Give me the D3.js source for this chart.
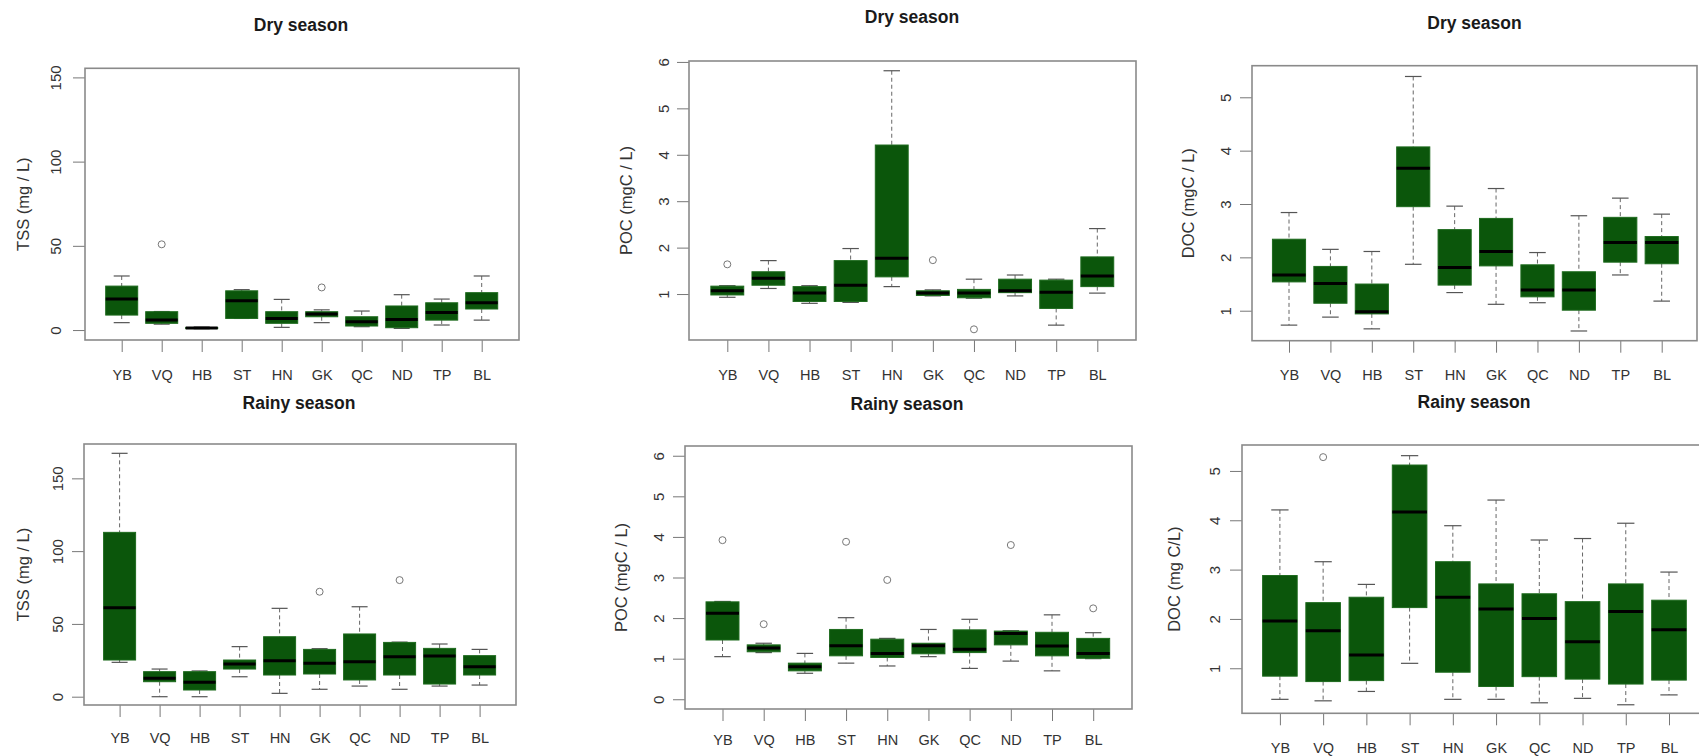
<!DOCTYPE html>
<html>
<head>
<meta charset="utf-8">
<script src="https://cdn.jsdelivr.net/npm/d3@7"></script>
<style>
  html, body { margin: 0; padding: 0; background: #fff; }
  svg { display: block; font-family: "Liberation Sans", Arial, sans-serif; }
</style>
</head>
<body>
<svg id="chart" width="1699" height="756"></svg>
<script>
// ---------------- DATA ----------------
const categories = ["YB", "VQ", "HB", "ST", "HN", "GK", "QC", "ND", "TP", "BL"];

// each row: [whisker low, Q1, median, Q3, whisker high]
const tssDry = [
  [4.4, 8.9, 18.4, 26.1, 32.1],
  [3.5, 4.0, 6.0, 10.9, 11.0],
  [0.8, 1.0, 1.2, 1.5, 1.8],
  [6.9, 6.9, 17.4, 23.3, 24.0],
  [1.6, 4.0, 6.9, 10.9, 18.2],
  [4.4, 7.9, 9.5, 10.9, 12.0],
  [2.0, 2.4, 4.9, 7.9, 11.3],
  [1.0, 1.4, 6.3, 14.3, 21.0],
  [3.0, 5.9, 10.5, 16.2, 18.4],
  [5.9, 12.5, 16.2, 22.2, 32.1]
];
const tssDryOutliers = [[], [50.9], [], [], [], [25.3], [], [], [], []];

const tssRainy = [
  [23.6, 25.2, 61.1, 112.9, 167.2],
  [0.0, 10.3, 12.6, 17.2, 19.0],
  [0.0, 4.6, 9.9, 17.2, 17.7],
  [13.7, 19.0, 22.5, 25.2, 34.4],
  [2.3, 14.9, 24.7, 41.2, 60.7],
  [5.1, 15.6, 22.9, 32.5, 33.0],
  [7.3, 11.5, 24.0, 43.1, 61.8],
  [5.1, 14.9, 27.5, 37.3, 37.5],
  [7.3, 8.7, 28.0, 33.2, 36.2],
  [8.0, 14.9, 20.6, 28.2, 32.5]
];
const tssRainyOutliers = [[], [], [], [], [], [72.1], [], [80.1], [], []];

const pocDry = [
  [0.93, 0.98, 1.07, 1.17, 1.18],
  [1.12, 1.19, 1.34, 1.48, 1.72],
  [0.80, 0.84, 1.02, 1.16, 1.18],
  [0.82, 0.84, 1.19, 1.72, 1.98],
  [1.16, 1.37, 1.77, 4.21, 5.81],
  [0.96, 0.97, 1.02, 1.07, 1.09],
  [0.91, 0.92, 1.02, 1.10, 1.32],
  [0.96, 1.03, 1.07, 1.32, 1.41],
  [0.33, 0.69, 1.04, 1.30, 1.32],
  [1.02, 1.16, 1.39, 1.80, 2.41]
];
const pocDryOutliers = [[1.64], [], [], [], [], [1.73], [0.24], [], [], []];

const pocRainy = [
  [1.05, 1.46, 2.12, 2.40, 2.41],
  [1.15, 1.17, 1.26, 1.34, 1.38],
  [0.64, 0.70, 0.80, 0.89, 1.13],
  [0.89, 1.07, 1.32, 1.72, 2.01],
  [0.82, 1.03, 1.13, 1.48, 1.50],
  [1.05, 1.12, 1.32, 1.38, 1.72],
  [0.76, 1.15, 1.23, 1.71, 1.97],
  [0.94, 1.34, 1.62, 1.68, 1.69],
  [0.70, 1.07, 1.31, 1.65, 2.08],
  [1.00, 1.01, 1.13, 1.50, 1.64]
];
const pocRainyOutliers = [[3.92], [1.85], [], [3.88], [2.94], [], [], [3.80], [], [2.24]];

const docDry = [
  [0.73, 1.54, 1.67, 2.34, 2.84],
  [0.88, 1.14, 1.51, 1.83, 2.15],
  [0.66, 0.94, 0.98, 1.50, 2.11],
  [1.87, 2.95, 3.67, 4.07, 5.39],
  [1.34, 1.48, 1.81, 2.52, 2.96],
  [1.12, 1.84, 2.11, 2.73, 3.29],
  [1.15, 1.26, 1.39, 1.86, 2.09],
  [0.62, 1.01, 1.39, 1.73, 2.78],
  [1.67, 1.91, 2.28, 2.75, 3.11],
  [1.18, 1.88, 2.28, 2.39, 2.81]
];
const docDryOutliers = [[], [], [], [], [], [], [], [], [], []];

const docRainy = [
  [0.37, 0.84, 1.96, 2.88, 4.21],
  [0.34, 0.73, 1.76, 2.33, 3.16],
  [0.53, 0.75, 1.27, 2.44, 2.70],
  [1.10, 2.23, 4.17, 5.12, 5.31],
  [0.37, 0.92, 2.44, 3.16, 3.89],
  [0.37, 0.63, 2.20, 2.71, 4.41],
  [0.30, 0.83, 2.01, 2.51, 3.60],
  [0.39, 0.78, 1.54, 2.35, 3.63],
  [0.26, 0.68, 2.15, 2.71, 3.94],
  [0.46, 0.76, 1.78, 2.38, 2.95]
];
const docRainyOutliers = [[], [5.28], [], [], [], [], [], [], [], []];

const tssTicks = [0, 50, 100, 150];
const pocDryTicks = [1, 2, 3, 4, 5, 6];
const pocRainyTicks = [0, 1, 2, 3, 4, 5, 6];
const docTicks = [1, 2, 3, 4, 5];

const titles = ["Dry season", "Rainy season"];
const yLabels = ["TSS (mg / L)", "TSS (mg / L)", "POC (mgC / L)", "POC (mgC / L)", "DOC (mgC / L)", "DOC (mg C/L)"];

// ---------------- LAYOUT ----------------
const panels = [
  { stats: tssDry, out: tssDryOutliers, ticks: tssTicks, title: titles[0], ylab: yLabels[0],
    box: [85, 519, 68.3, 340], xr: [121.7, 481.7], yd: [-5.9, 155.4], tx: 301, ty: 25, labX: 23, tlOff: 30, xlOff: 35 },
  { stats: tssRainy, out: tssRainyOutliers, ticks: tssTicks, title: titles[1], ylab: yLabels[1],
    box: [84, 516, 444, 705], xr: [119.6, 479.6], yd: [-5.7, 173.6], tx: 299, ty: 403, labX: 23, tlOff: 27, xlOff: 33 },
  { stats: pocDry, out: pocDryOutliers, ticks: pocDryTicks, title: titles[0], ylab: yLabels[2],
    box: [689, 1136, 61, 340], xr: [727.3, 1097.3], yd: [0.01, 6.02], tx: 912, ty: 17, labX: 626, tlOff: 26, xlOff: 35 },
  { stats: pocRainy, out: pocRainyOutliers, ticks: pocRainyTicks, title: titles[1], ylab: yLabels[3],
    box: [685, 1132, 446, 709], xr: [722.5, 1093.2], yd: [-0.24, 6.24], tx: 907, ty: 404, labX: 621, tlOff: 27, xlOff: 31 },
  { stats: docDry, out: docDryOutliers, ticks: docTicks, title: titles[0], ylab: yLabels[4],
    box: [1252, 1697, 65.7, 340.7], xr: [1289, 1661.7], yd: [0.438, 5.592], tx: 1474.5, ty: 23, labX: 1188, tlOff: 27, xlOff: 34 },
  { stats: docRainy, out: docRainyOutliers, ticks: docTicks, title: titles[1], ylab: yLabels[5],
    box: [1242, 1702, 445, 713.3], xr: [1279.9, 1669], yd: [0.087, 5.526], tx: 1474, ty: 402, labX: 1173.5, tlOff: 28, xlOff: 35 }
];

const FILL = "#0b560b";
const svg = d3.select("#chart");
svg.append("rect").attr("width", 1699).attr("height", 756).attr("fill", "#fff");

panels.forEach(p => {
  const [L, R, T, B] = p.box;
  const x = d3.scalePoint().domain(categories).range(p.xr);
  const y = d3.scaleLinear().domain(p.yd).range([B, T]);
  const bw = x.step() * 0.8;
  const g = svg.append("g");

  // title
  g.append("text").attr("x", p.tx).attr("y", p.ty)
    .attr("text-anchor", "middle").attr("dominant-baseline", "central")
    .attr("font-weight", "bold").attr("font-size", 17.5).attr("fill", "#1a1a1a")
    .text(p.title);

  // y-axis label
  g.append("text")
    .attr("transform", `translate(${p.labX},${(T + B) / 2}) rotate(-90)`)
    .attr("text-anchor", "middle").attr("dominant-baseline", "central")
    .attr("font-size", 16.5).attr("fill", "#333")
    .text(p.ylab);

  // y axis
  const ya = g.append("g").attr("transform", `translate(${L},0)`)
    .call(d3.axisLeft(y).tickValues(p.ticks).tickSize(12).tickFormat(d3.format("d")));
  ya.select(".domain").remove();
  ya.selectAll(".tick line").attr("stroke", "#777");
  ya.selectAll(".tick text")
    .attr("x", null).attr("dy", null)
    .attr("transform", `translate(${-p.tlOff},0) rotate(-90)`)
    .attr("text-anchor", "middle").attr("dominant-baseline", "central")
    .attr("font-size", 15).attr("fill", "#333");

  // x axis
  const xa = g.append("g").attr("transform", `translate(0,${B})`)
    .call(d3.axisBottom(x).tickSize(12));
  xa.select(".domain").remove();
  xa.selectAll(".tick line").attr("stroke", "#777");
  xa.selectAll(".tick text")
    .attr("y", p.xlOff).attr("dy", "0.35em")
    .attr("font-size", 14.5).attr("fill", "#333");

  // boxes
  const bx = g.selectAll("g.bx").data(p.stats).join("g").attr("class", "bx")
    .attr("transform", (d, i) => `translate(${x(categories[i])},0)`);

  // whiskers (dashed)
  bx.append("line").attr("x1", 0).attr("x2", 0)
    .attr("y1", d => y(d[4])).attr("y2", d => y(d[3]))
    .attr("stroke", "#666").attr("stroke-dasharray", "4,3").attr("stroke-width", 1);
  bx.append("line").attr("x1", 0).attr("x2", 0)
    .attr("y1", d => y(d[1])).attr("y2", d => y(d[0]))
    .attr("stroke", "#666").attr("stroke-dasharray", "4,3").attr("stroke-width", 1);
  // caps
  bx.append("line").attr("x1", -bw / 4).attr("x2", bw / 4)
    .attr("y1", d => y(d[4])).attr("y2", d => y(d[4]))
    .attr("stroke", "#555").attr("stroke-width", 1.2);
  bx.append("line").attr("x1", -bw / 4).attr("x2", bw / 4)
    .attr("y1", d => y(d[0])).attr("y2", d => y(d[0]))
    .attr("stroke", "#555").attr("stroke-width", 1.2);
  // box
  bx.append("rect").attr("x", -bw / 2).attr("width", bw)
    .attr("y", d => y(d[3])).attr("height", d => Math.max(1, y(d[1]) - y(d[3])))
    .attr("fill", FILL).attr("stroke", "#1d6a1d").attr("stroke-width", 1);
  // median
  bx.append("line").attr("x1", -bw / 2).attr("x2", bw / 2)
    .attr("y1", d => y(d[2])).attr("y2", d => y(d[2]))
    .attr("stroke", "#000").attr("stroke-width", 3);
  // outliers
  bx.each(function (d, i) {
    d3.select(this).selectAll("circle").data(p.out[i]).join("circle")
      .attr("cx", 0).attr("cy", v => y(v)).attr("r", 3.5)
      .attr("fill", "none").attr("stroke", "#777").attr("stroke-width", 1);
  });

  // frame
  g.append("rect").attr("x", L).attr("y", T).attr("width", R - L).attr("height", B - T)
    .attr("fill", "none").attr("stroke", "#8a8a8a").attr("stroke-width", 1.6);
});
</script>
</body>
</html>
